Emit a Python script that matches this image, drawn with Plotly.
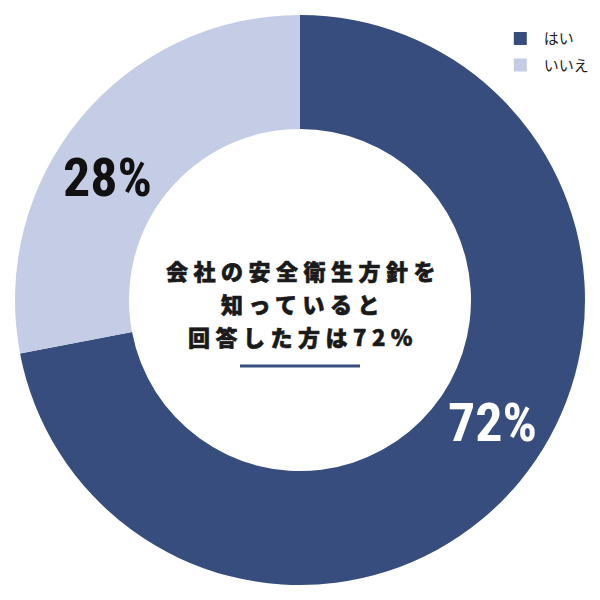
import math
import plotly.graph_objects as go

# survey answers and their shares
labels = ["はい", "いいえ"]
values = [72, 28]
colors = ["#364d7e", "#c5cde6"]
text_colors = ["white", "#111111"]
center_lines = ["会社の安全衛生方針を", "知っていると", "回答した方は72%"]

HOLE = 0.6
DOMAIN = [0.025, 0.975]

fig = go.Figure(
    go.Pie(
        labels=labels,
        values=values,
        hole=HOLE,
        sort=False,
        direction="clockwise",
        rotation=0,
        marker=dict(colors=colors, line=dict(width=0)),
        textinfo="none",
        hoverinfo="label+percent",
        showlegend=False,
        domain=dict(x=DOMAIN, y=DOMAIN),
    )
)

# legend entries (square swatches) as empty traces so spacing can be tuned
for lab, col in zip(labels, colors):
    fig.add_trace(go.Scatter(
        x=[None], y=[None], mode="markers", name=lab, legendgroup=lab,
        marker=dict(symbol="square", size=13, color=col),
    ))

# percentage labels placed on the ring, a little before each slice's middle angle
total = sum(values)
outer = (DOMAIN[1] - DOMAIN[0]) / 2
ring_r = outer * (1 + HOLE) / 2
start = 0.0
for v, tc in zip(values, text_colors):
    mid = (start + v / 2) / total * 360 - 7
    start += v
    ang = math.radians(mid)
    fig.add_annotation(
        text=f'<span style="font-stretch:condensed">{v}%</span>',
        x=0.5 + ring_r * math.sin(ang), y=0.5 + ring_r * math.cos(ang),
        xref="paper", yref="paper", xanchor="center", yanchor="middle",
        showarrow=False,
        font=dict(family="Roboto", size=54, color=tc, weight="bold"),
    )

# centre caption, one annotation per line for looser line height
for i, line in enumerate(center_lines):
    fig.add_annotation(
        text=(
            '<span style="letter-spacing:5.5px;stroke:#1a1a1a;stroke-width:0.6px">'
            f"{line}</span>"
        ),
        x=0.5, y=0.55 - i * 0.055, xref="paper", yref="paper",
        xanchor="center", xshift=3, showarrow=False,
        font=dict(family="Noto Sans CJK JP", size=22, color="#1a1a1a", weight=900),
    )

# short rule under the caption
fig.add_shape(
    type="line", xref="paper", yref="paper",
    x0=0.4, x1=0.6, y0=0.39, y1=0.39,
    line=dict(color="#364d7e", width=3),
)

fig.update_layout(
    width=600,
    height=600,
    margin=dict(l=0, r=0, t=0, b=0),
    paper_bgcolor="white",
    plot_bgcolor="white",
    xaxis=dict(visible=False),
    yaxis=dict(visible=False),
    showlegend=True,
    legend=dict(
        x=0.828, y=0.963, xanchor="left", yanchor="top",
        font=dict(family="Noto Sans CJK JP", size=15, color="#222222"),
        itemwidth=37,
        tracegroupgap=4,
        bgcolor="rgba(0,0,0,0)",
    ),
)

fig.write_html(
    "out.html",
    config={"displayModeBar": False},
    post_script="document.body.style.margin='0';",
)
